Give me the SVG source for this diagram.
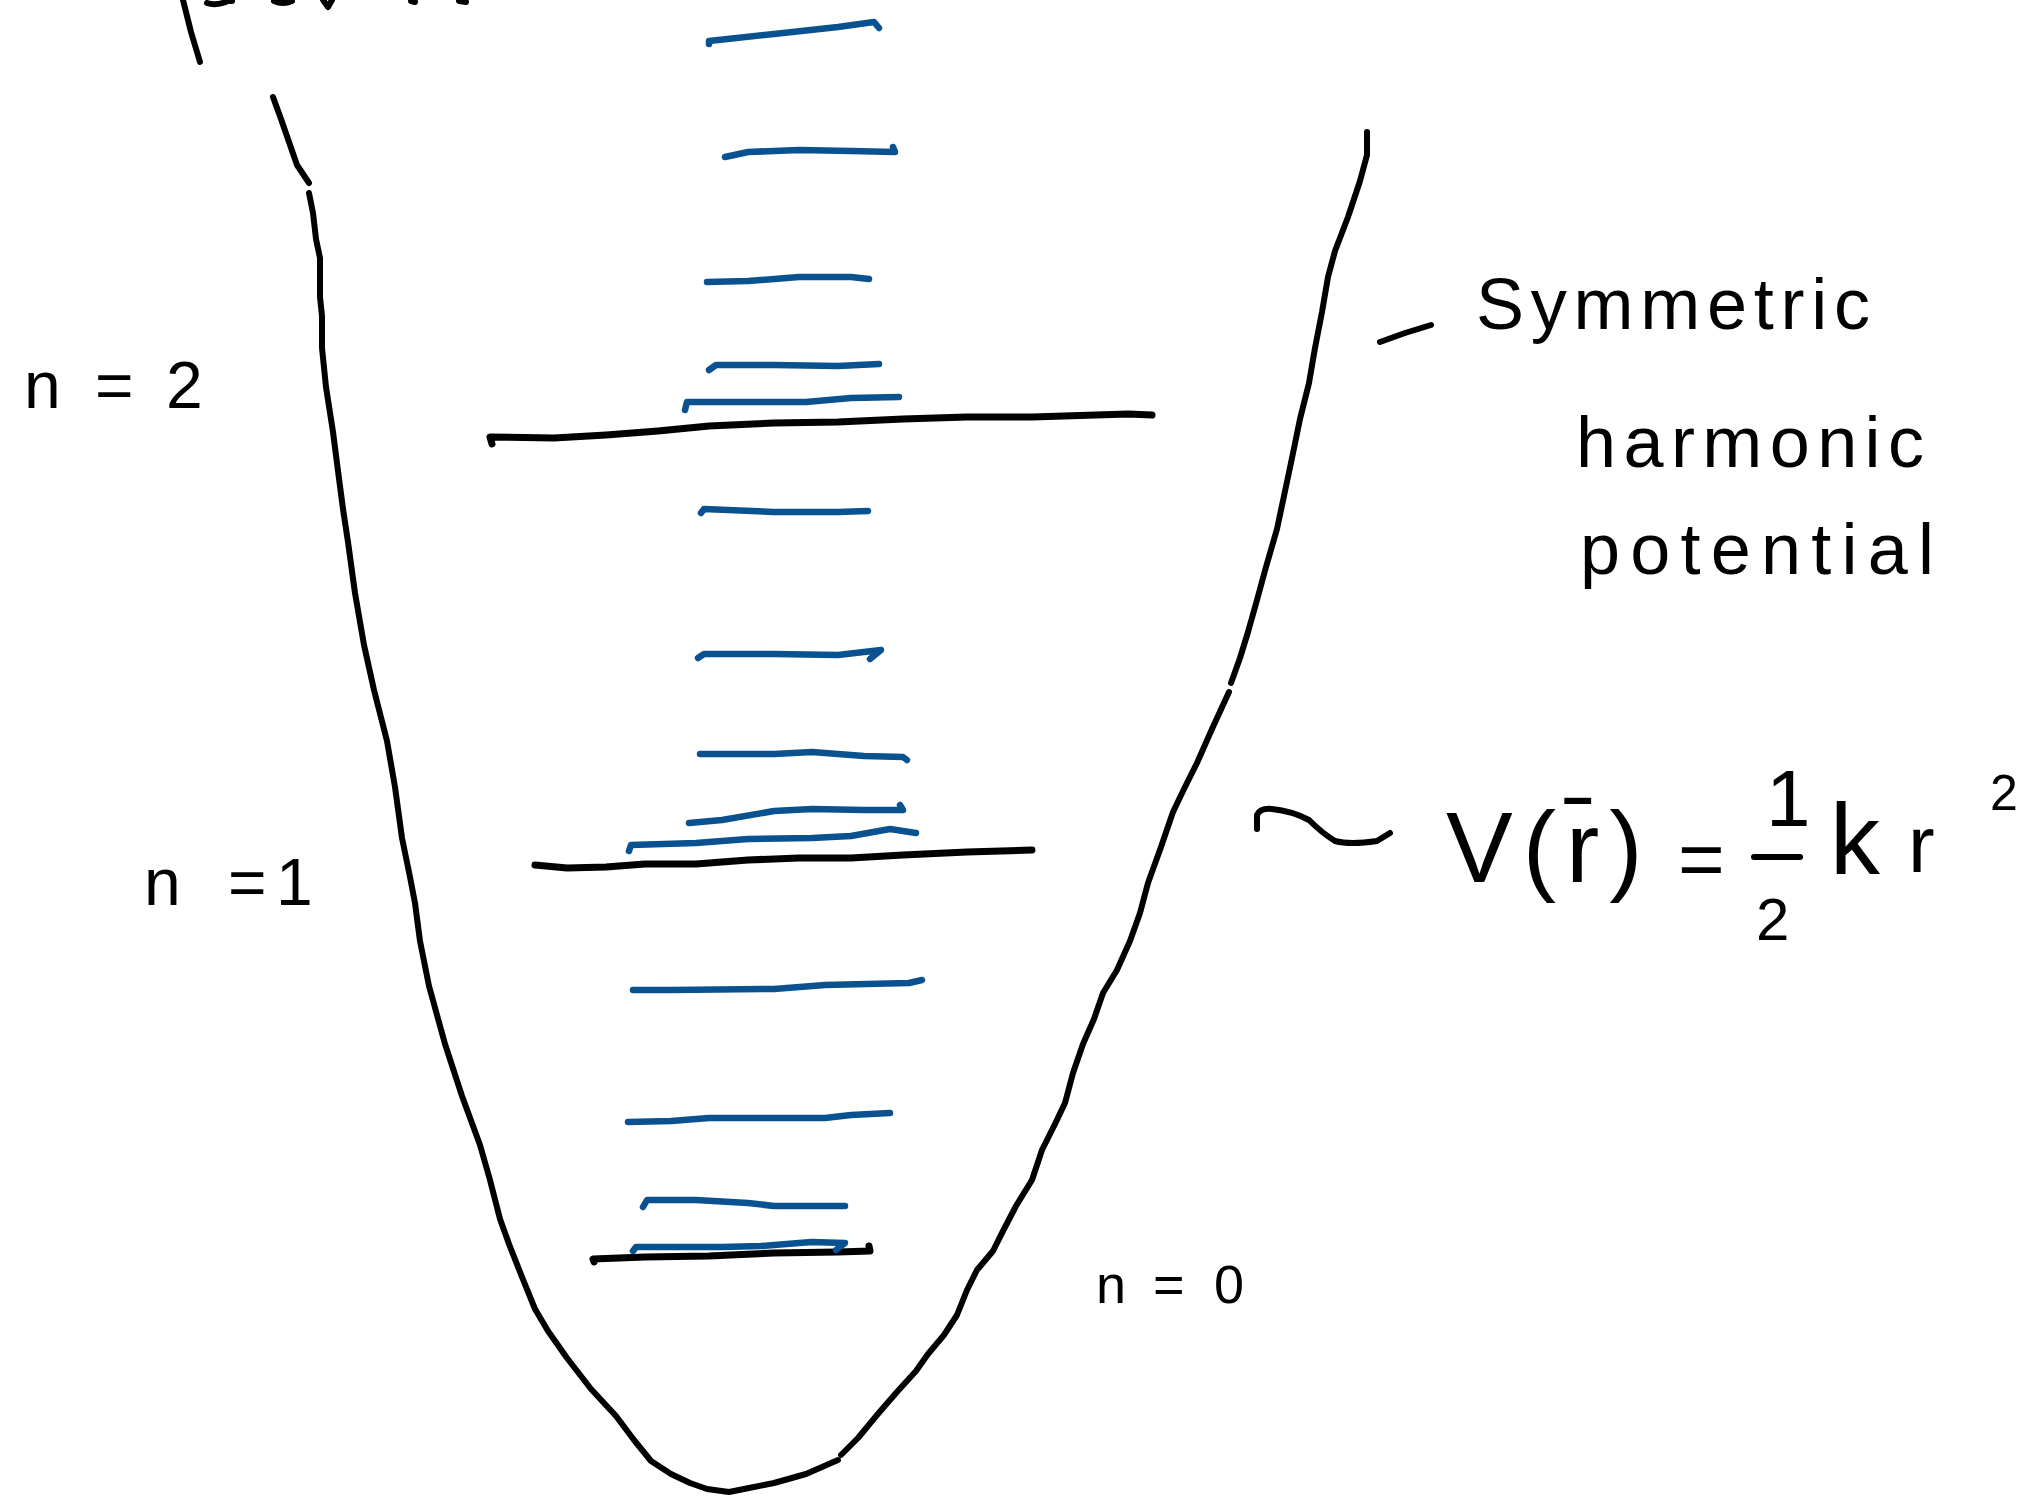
<svg xmlns="http://www.w3.org/2000/svg" width="2022" height="1503" viewBox="0 0 2022 1503">
<style>
.ink{fill:none;stroke:#000;stroke-width:6;stroke-linecap:round;stroke-linejoin:round}
.lvl{fill:none;stroke:#000;stroke-width:7;stroke-linecap:round;stroke-linejoin:round}
.sub{fill:none;stroke:#0a518f;stroke-width:6.5;stroke-linecap:round;stroke-linejoin:round}
.t{font-family:"Liberation Sans","DejaVu Sans",sans-serif;fill:#000}
</style>
<rect width="2022" height="1503" fill="#fff"/>
<g id="well">
<polyline class="ink" points="183,0 191,32 200,62"/>
<path class="ink" d="M207,3 Q215,6 226,2 M230,1 L232,1 M274,1 Q283,5 292,1 M323,0 L328,7 L332,0 M411,1 L415,2 M459,1 L466,2"/>
<polyline class="ink" points="273,97 281,119 289,142 297,165 309,183"/>
<polyline class="ink" points="309,193 313,213 316,239 320,258 320,297 322,316 322,348 326,387 333,432 338,471 343,509 348,542 355,593 364,645 374,690 387,741 395,787 402,838 410,877 415,903 420,941 429,986 445,1044 462,1096 480,1145 490,1180 500,1219 509,1244 522,1277 535,1309 548,1331 567,1358 591,1389 616,1416 634,1440 651,1461 671,1474 690,1483 707,1489 729,1492 754,1487 774,1483 806,1474 838,1460"/>
<polyline class="ink" points="1367,132 1367,155 1360,181 1348,217 1335,251 1328,277 1322,312 1315,348 1309,383 1300,419 1292,458 1284,496 1277,529 1266,567 1257,600 1248,632 1240,658 1231,683"/>
<polyline class="ink" points="1229,692 1212,729 1197,763 1184,789 1173,812 1161,847 1148,883 1140,913 1130,941 1117,970 1103,993 1094,1019 1083,1044 1073,1073 1065,1103 1055,1124 1042,1150 1032,1180 1016,1206 1003,1231 993,1251 977,1270 967,1290 957,1315 944,1335 928,1354 916,1371 896,1393 877,1415 858,1438 841,1455"/>
</g>
<g id="levels">
<polyline class="lvl" points="492,444 490,437 554,438 606,435 658,431 709,426 774,423 838,422 903,419 967,417 1032,417 1096,415 1128,414 1152,415"/>
<polyline class="lvl" points="535,865 567,868 606,867 645,864 696,864 748,860 799,858 851,858 903,855 967,852 1032,850"/>
<polyline class="lvl" points="594,1262 593,1259 645,1257 709,1256 774,1253 838,1252 870,1251 869,1246"/>
</g>
<g id="sublevels">
<polyline class="sub" points="709,44 709,41 774,34 838,27 874,22 879,28"/>
<polyline class="sub" points="725,157 748,152 799,150 851,151 895,152 893,147"/>
<polyline class="sub" points="707,282 748,281 799,277 851,277 869,279"/>
<polyline class="sub" points="709,370 716,365 774,365 838,366 879,364"/>
<polyline class="sub" points="685,410 687,402 748,402 806,402 851,398 899,397"/>
<polyline class="sub" points="701,513 704,509 774,512 838,512 868,511"/>
<polyline class="sub" points="698,658 704,654 774,654 838,655 881,650 870,659"/>
<polyline class="sub" points="700,754 774,754 812,752 864,756 903,757 907,760"/>
<polyline class="sub" points="689,823 722,820 774,811 812,809 864,810 903,810 900,805"/>
<polyline class="sub" points="629,851 631,845 696,843 748,839 812,838 851,836 890,829 916,833"/>
<polyline class="sub" points="633,990 671,990 774,989 825,985 909,983 922,980"/>
<polyline class="sub" points="628,1122 671,1121 709,1118 774,1118 825,1118 851,1115 890,1113"/>
<polyline class="sub" points="643,1207 647,1200 696,1200 748,1203 774,1206 845,1206"/>
<polyline class="sub" points="633,1251 636,1247 722,1247 761,1246 799,1243 812,1242 845,1243 836,1250"/>
</g>
<g id="labels">
<text class="t" font-size="66" y="408"><tspan x="24">n</tspan><tspan x="95">=</tspan><tspan x="166">2</tspan></text>
<text class="t" font-size="66" y="905"><tspan x="144">n</tspan><tspan x="228">=</tspan><tspan x="276">1</tspan></text>
<text class="t" font-size="54" y="1303"><tspan x="1096">n</tspan><tspan x="1153">=</tspan><tspan x="1214">0</tspan></text>
<path class="ink" d="M1380,342 L1405,333 L1431,325"/>
<text class="t" font-size="72" x="1476" y="329" textLength="394" lengthAdjust="spacing">Symmetric</text>
<text class="t" font-size="72" x="1576" y="467" textLength="348" lengthAdjust="spacing">harmonic</text>
<text class="t" font-size="72" x="1580" y="574" textLength="354" lengthAdjust="spacing">potential</text>
<path class="ink" d="M1257,829 L1257,815 Q1260,808 1272,809 Q1292,811 1309,820 Q1322,833 1335,841 Q1350,845 1377,841 L1390,833"/>
<text class="t" font-size="100" x="1446" y="882" letter-spacing="10">V(r̄)</text>
<text class="t" font-size="80" x="1678" y="886">=</text>
<text class="t" font-size="80" x="1766" y="826">1</text>
<line class="ink" x1="1754" y1="857" x2="1800" y2="857"/>
<text class="t" font-size="60" x="1756" y="940">2</text>
<text class="t" font-size="100" x="1830" y="874">k</text>
<text class="t" font-size="80" x="1908" y="872">r</text>
<text class="t" font-size="50" x="1990" y="810">2</text>
</g>
</svg>
